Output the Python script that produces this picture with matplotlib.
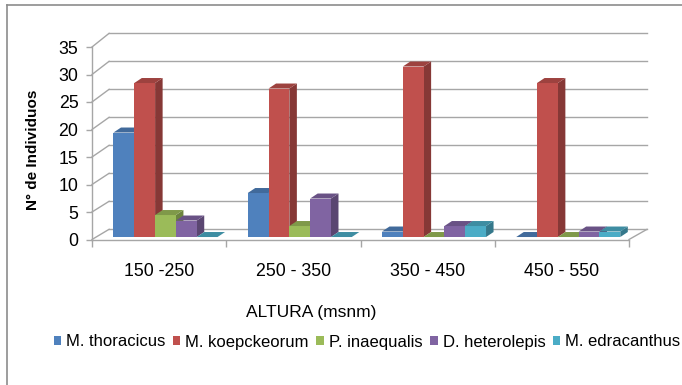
import matplotlib.pyplot as plt
from matplotlib.patches import Polygon, Patch
from matplotlib.lines import Line2D

plt.rcParams['font.family'] = ['Liberation Sans', 'DejaVu Sans']

# datos
altitudes = ['150 -250', '250 - 350', '350 - 450', '450 - 550']
species = ['M. thoracicus', 'M. koepckeorum', 'P. inaequalis', 'D. heterolepis', 'M. edracanthus']
thoracicus = [19, 8, 1, 0]
koepckeorum = [28, 27, 31, 28]
inaequalis = [4, 2, 0, 0]
heterolepis = [3, 7, 2, 1]
edracanthus = [0, 0, 2, 1]
series = [thoracicus, koepckeorum, inaequalis, heterolepis, edracanthus]
yticks = [0, 5, 10, 15, 20, 25, 30, 35]

colors = ['#4F81BD', '#C0504D', '#9BBB59', '#8064A2', '#4BACC6']
grid_c = '#A6A6A6'


def shade(c, f):
    c = c.lstrip('#')
    r, g, b = (int(c[i:i + 2], 16) / 255 for i in (0, 2, 4))
    return (r * f, g * f, b * f)


fig = plt.figure(figsize=(6.82, 3.85), dpi=100)
ax = fig.add_axes([92 / 682, 1 - 239.5 / 385, 537 / 682, 192.5 / 385])
ax.set_xlim(0, 4)
ax.set_ylim(0, 35)
ax.patch.set_visible(False)

# efecto 3D: pared posterior y lateral
wall_dx = 0.127
back_x1 = 4.134


def back_y(v):
    return 1.85 + 1.018 * v


for v in yticks:
    ax.plot([0, wall_dx], [v, back_y(v)], color=grid_c, lw=1.0, clip_on=False, zorder=1)
    ax.plot([wall_dx, back_x1], [back_y(v), back_y(v)], color=grid_c, lw=1.0, clip_on=False, zorder=1)
# piso
ax.plot([4, back_x1], [0, back_y(0)], color=grid_c, lw=1.0, clip_on=False, zorder=1)

# barras
bar_w = 0.155
bar_dx = 0.056
bar_dy = 0.91
base = 0.45
z = 3
for i in range(len(altitudes)):
    for j, vals in enumerate(series):
        x0 = i + 0.16 + j * bar_w
        top = base + vals[i]
        c = colors[j]
        if vals[i] > 0:
            ax.add_patch(Polygon([(x0 + bar_w, base), (x0 + bar_w + bar_dx, base + bar_dy),
                                  (x0 + bar_w + bar_dx, top + bar_dy), (x0 + bar_w, top)],
                                 closed=True, facecolor=shade(c, 0.7), edgecolor='none', zorder=z))
            ax.add_patch(plt.Rectangle((x0, base), bar_w, vals[i], facecolor=c,
                                       edgecolor='none', zorder=z + 1))
        ax.add_patch(Polygon([(x0, top), (x0 + bar_dx, top + bar_dy),
                              (x0 + bar_w + bar_dx, top + bar_dy), (x0 + bar_w, top)],
                             closed=True, facecolor=shade(c, 0.82), edgecolor='none',
                             zorder=z + 1, clip_on=False))
        z += 2

# ejes
for s in ['top', 'right']:
    ax.spines[s].set_visible(False)
for s in ['left', 'bottom']:
    ax.spines[s].set_color(grid_c)
    ax.spines[s].set_linewidth(1.0)

ax.set_yticks(yticks)
ax.tick_params(axis='y', length=4.3, width=1.0, color=grid_c, pad=5.5, labelsize=12.8)
ax.set_xticks([0.5, 1.5, 2.5, 3.5], altitudes)
ax.set_xticks([0, 1, 2, 3, 4], minor=True)
ax.tick_params(axis='x', which='major', length=0, pad=17, labelsize=12.8)
ax.tick_params(axis='x', which='minor', length=5, width=1.0, color=grid_c)

ax.set_xlabel('ALTURA (msnm)', fontsize=12.5, va='center')
ax.xaxis.set_label_coords((311 - 92) / 537, -(312 - 239.5) / 192.5)
ax.set_ylabel('N° de Individuos', fontsize=11, fontweight='bold', va='center')
ax.yaxis.set_label_coords((33 - 92) / 537, (239.5 - 150) / 192.5)

handles = [Patch(facecolor=c, edgecolor='none') for c in colors]
fig.legend(handles, species, loc='center', bbox_to_anchor=(367 / 682, 1 - 342 / 385),
           ncol=5, frameon=False, fontsize=12, handlelength=0.45, handleheight=0.45,
           handletextpad=0.3, columnspacing=0.45, borderpad=0)

# marco del grafico
fig.add_artist(Line2D([7 / 682, 7 / 682], [0, 1 - 5 / 385], transform=fig.transFigure,
                      color='#8C8C8C', lw=1.2))
fig.add_artist(Line2D([7 / 682, 1], [1 - 5 / 385, 1 - 5 / 385], transform=fig.transFigure,
                      color='#8C8C8C', lw=1.2))

fig.savefig('out.png', dpi=100)
